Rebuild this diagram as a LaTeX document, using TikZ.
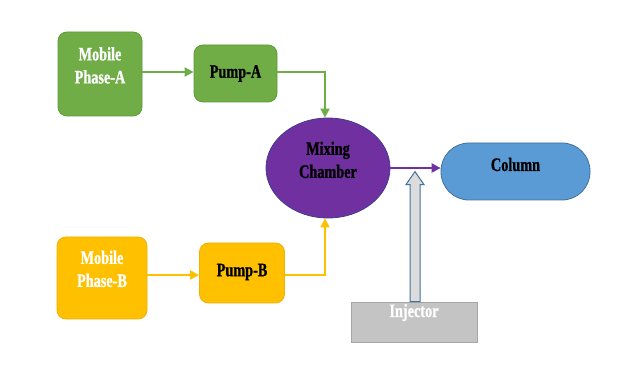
\documentclass[tikz,border=0pt]{standalone}
\usepackage{fontspec}
\setmainfont{Liberation Serif}
\newfontfamily\condfont[FakeStretch=0.75,FakeBold=1]{Liberation Serif}
\usetikzlibrary{arrows.meta,shapes.geometric,calc}
\definecolor{cgreen}{HTML}{70AD47}
\definecolor{cgreenD}{HTML}{5E9A38}
\definecolor{corange}{HTML}{FFC000}
\definecolor{corangeD}{HTML}{F2B000}
\definecolor{cpurple}{HTML}{7030A0}
\definecolor{cpurpleD}{HTML}{3F3F8F}
\definecolor{cblue}{HTML}{5B9BD5}
\definecolor{cblueD}{HTML}{41719C}
\definecolor{cgray}{HTML}{C4C4C4}
\definecolor{cgrayD}{HTML}{A6A6A6}
\definecolor{clight}{HTML}{DCDCDC}
\newcommand\upby[2]{\raisebox{0pt}[\height][\dimexpr\depth+#1\relax]{#2}}
\newcommand\twolines[2]{\begin{tabular}{@{}c@{}}#1\\[1pt]#2\end{tabular}}
\tikzset{
  lbl/.style={font=\condfont\bfseries\fontsize{19}{22}\selectfont, inner sep=0pt},
  gbox/.style={lbl, rectangle, rounded corners=9pt, fill=cgreen, draw=cgreenD, line width=0.8pt},
  obox/.style={lbl, rectangle, rounded corners=9pt, fill=corange, draw=corangeD, line width=0.8pt},
  flow/.style={line width=2pt, -{Triangle[length=9pt,width=9pt]}},
}
\begin{document}
\begin{tikzpicture}[x=1pt,y=-1pt]
\useasboundingbox (0,0) rectangle (625,390);
\node[gbox, text=white, minimum width=84pt, minimum height=84pt] (mpa) at (100,74) {\upby{13pt}{\twolines{Mobile}{Phase-A}}};
\node[gbox, text=black, minimum width=83pt, minimum height=57pt] (pa) at (235.5,73.5) {Pump-A};
\node[obox, text=white, minimum width=90pt, minimum height=82pt] (mpb) at (102,278) {\upby{14pt}{\twolines{Mobile}{Phase-B}}};
\node[obox, text=black, minimum width=85pt, minimum height=60pt] (pb) at (242,273) {\upby{2pt}{Pump-B}};
\node[lbl, ellipse, fill=cpurple, draw=cpurpleD, line width=0.8pt, minimum width=124pt, minimum height=100pt, text=black] (mix) at (328,168) {\upby{12pt}{\twolines{Mixing}{Chamber}}};
\node[lbl, rectangle, rounded corners=28pt, fill=cblue, draw=cblueD, line width=0.8pt, minimum width=149pt, minimum height=57pt, text=black] (col) at (515.5,171.5) {\upby{14pt}{Column}};
\node[lbl, rectangle, fill=cgray, draw=cgrayD, line width=0.8pt, minimum width=126pt, minimum height=40pt, text=white] (inj) at (414,322) {\upby{19pt}{Injector}};

\draw[flow, cgreen] (mpa.east |- 0,72) coordinate (a1) -- (pa.west |- a1);
\draw[flow, cgreen] (pa.east |- 0,72) -| (mix.north -| 325,0);
\draw[flow, corange] (mpb.east |- 0,275) coordinate (b1) -- (pb.west |- b1);
\draw[flow, corange] (pb.east |- 0,275) -| (mix.south -| 325,0);
\draw[flow, cpurple, line width=2.6pt] (mix.east) -- (col.west |- mix.east);

\coordinate (t) at ($(inj.north)+(1,-130)$);
\draw[cblueD, fill=clight, line width=1pt]
  ($(inj.north)+(-4,0)$) -- ($(inj.north)+(-4,-117)$) -- ($(inj.north)+(-8,-117)$)
  -- (t) -- ($(inj.north)+(10,-117)$) -- ($(inj.north)+(6,-117)$) -- ($(inj.north)+(6,0)$) -- cycle;
\end{tikzpicture}
\end{document}
